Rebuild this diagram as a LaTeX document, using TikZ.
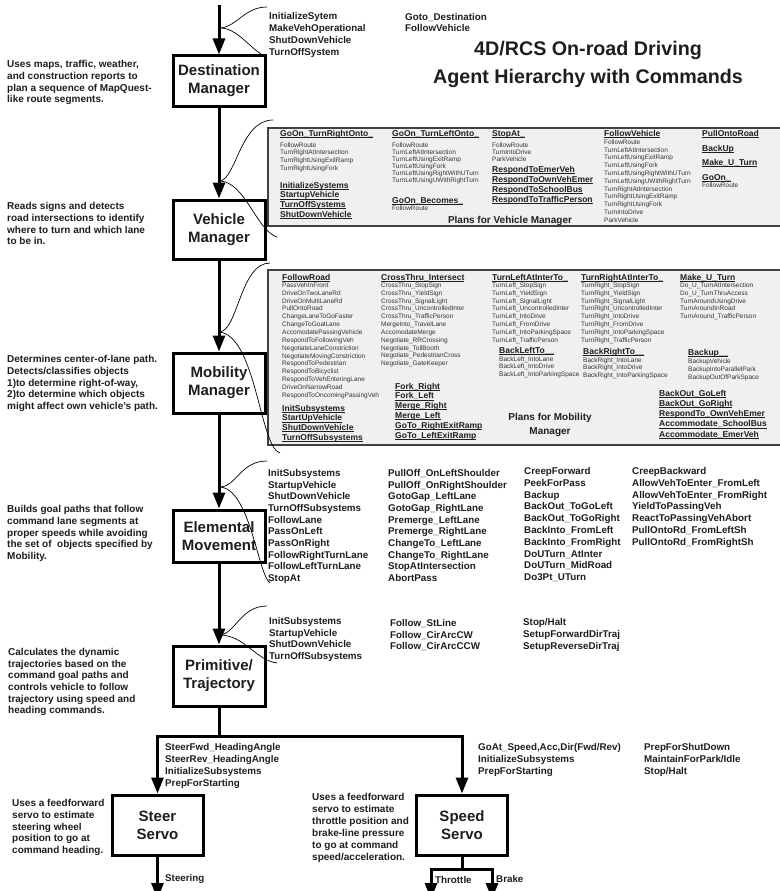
\documentclass[tikz,border=0pt]{standalone}
\usepackage{fontspec}
\setmainfont{Liberation Sans}
\usetikzlibrary{arrows.meta}

\definecolor{ink}{HTML}{1E1E1E}
\definecolor{ink2}{HTML}{333333}
\definecolor{planfill}{HTML}{F0F0F0}
\definecolor{planedge}{HTML}{404040}

% a thin underline sitting close to the baseline
\newsavebox\ulbox
\newcommand\ulx[1]{\sbox\ulbox{#1}\rlap{\rule[-1.4pt]{\wd\ulbox}{0.6pt}}\usebox\ulbox}

% a column of text lines: name, x, first y, line step, style, items
\newcommand\txtcol[6]{%
  \foreach \t [count=\i from 0] in {#6}{%
    \node[#5] (#1-\i) at (#2,{#3+\i*#4}) {\t};}}
% the same, every line underlined
\newcommand\ulcol[6]{%
  \foreach \t [count=\i from 0] in {#6}{%
    \node[#5] (#1-\i) at (#2,{#3+\i*#4}) {\ulx{\t}};}}

\begin{document}
\begin{tikzpicture}[x=1pt,y=-1pt,
  agent/.style={draw=black, line width=3pt, minimum width=92pt, inner sep=0pt,
    align=center, text=ink, font=\bfseries\fontsize{15}{18}\selectfont},
  flow/.style={line width=3pt, -{Triangle[length=16pt,width=12pt]}},
  link/.style={line width=3pt},
  brace/.style={line width=0.7pt},
  cmd/.style={anchor=base west, inner sep=0pt, yshift=-3.5pt, text=ink,
    font=\bfseries\fontsize{9.8}{11}\selectfont},
  desc/.style={anchor=base west, inner sep=0pt, yshift=-3.6pt, text=ink,
    font=\bfseries\fontsize{10}{12}\selectfont},
  plan/.style={anchor=base west, inner sep=0pt, yshift=-2.3pt, text=ink2,
    font=\fontsize{6.5}{7.5}\selectfont},
  planhead/.style={anchor=base west, inner sep=0pt, yshift=-3pt, text=ink,
    font=\bfseries\fontsize{8.5}{10}\selectfont},
  plantitle/.style={anchor=base, inner sep=0pt, yshift=-3.6pt, text=ink,
    font=\bfseries\fontsize{10}{12}\selectfont},
  headline/.style={anchor=base, inner sep=0pt, yshift=-7pt, text=ink,
    font=\bfseries\fontsize{19.7}{24}\selectfont},
  planbox/.style={fill=planfill, draw=planedge, line width=1.1pt}
]
\fill[white] (0,0) rectangle (779,891);
\useasboundingbox (0,0) rectangle (779,891);

% ---------- title ----------
\node[headline] (title1) at (588,49) {4D/RCS On-road Driving};
\node[headline] (title2) at (588,76) {Agent Hierarchy with Commands};

% ---------- plan panels ----------
\draw[planbox] (268,128) rectangle (790,226);
\draw[planbox] (268,270) rectangle (790,445);

% ---------- agent boxes ----------
\node[agent, minimum height=50pt] (dest) at (219,81) {Destination\\Manager};
\node[agent, minimum height=59pt] (veh)  at (219,229.5) {Vehicle\\Manager};
\node[agent, minimum height=60pt] (mob)  at (219,383) {Mobility\\Manager};
\node[agent, minimum height=52pt] (elem) at (219,536) {Elemental\\Movement};
\node[agent, minimum height=60pt] (prim) at (219,676) {Primitive/\\Trajectory};
\node[agent, minimum height=60pt, minimum width=91pt] (steer) at (157.5,825) {Steer\\Servo};
\node[agent, minimum height=60pt, minimum width=91pt] (speed) at (462,825) {Speed\\Servo};

% ---------- command flow ----------
\coordinate (start) at (219,5);
\draw[flow] (start) -- (dest.north);
\draw[flow] (dest.south) -- (veh.north);
\draw[flow] (veh.south) -- (mob.north);
\draw[flow] (mob.south) -- (elem.north);
\draw[flow] (elem.south) -- (prim.north);
\coordinate (split) at (219,736);
\draw[flow] (prim.south) -- (split) -| (steer.north);
\draw[flow] (split) -| (speed.north);
\coordinate (steerout) at (157.5,899);
\draw[flow] (steer.south) -- (steerout);
\coordinate (speedfork) at (462,869);
\coordinate (throttleout) at (431,899);
\coordinate (brakeout) at (492,899);
\draw[link] (speed.south) -- (speedfork);
\draw[flow] (speedfork) -| (throttleout);
\draw[flow] (speedfork) -| (brakeout);

% ---------- brackets from the flow to each command list ----------
\coordinate (j1) at (219,28);  \coordinate (a1) at (267,7);   \coordinate (b1) at (267,57);
\coordinate (j2) at (219,181); \coordinate (a2) at (273,120); \coordinate (b2) at (277,237);
\coordinate (j3) at (219,332); \coordinate (a3) at (270,263); \coordinate (b3) at (280,453);
\coordinate (j4) at (219,487); \coordinate (a4) at (267,461); \coordinate (b4) at (270,583);
\coordinate (j5) at (219,635); \coordinate (a5) at (267,606); \coordinate (b5) at (277,663);
\draw[brace] (j1) .. controls (236,28) and (244,7) .. (a1);
\draw[brace] (j1) .. controls (238,27) and (252,52) .. (b1);
\draw[brace] (j2) .. controls (236,181) and (240,120) .. (a2);
\draw[brace] (j2) .. controls (245,181) and (256,230) .. (b2);
\draw[brace] (j3) .. controls (238,332) and (240,263) .. (a3);
\draw[brace] (j3) .. controls (256,335) and (260,448) .. (b3);
\draw[brace] (j4) .. controls (237,487) and (240,461) .. (a4);
\draw[brace] (j4) .. controls (250,487) and (258,575) .. (b4);
\draw[brace] (j5) .. controls (235,635) and (240,606) .. (a5);
\draw[brace] (j5) .. controls (245,635) and (255,660) .. (b5);

% ---------- descriptions ----------
\txtcol{ddest}{7}{64}{11.7}{desc}{{Uses maps, traffic, weather,},and construction reports to,plan a sequence of MapQuest-,like route segments.}
\txtcol{dveh}{7}{206}{11.7}{desc}{Reads signs and detects,road intersections to identify,where to turn and which lane,to be in.}
\txtcol{dmob}{7}{359}{11.7}{desc}{Determines center-of-lane path.,Detects/classifies objects,{1)to determine right-of-way,},2)to determine which objects,might affect own vehicle’s path.}
\txtcol{delem}{7}{509}{11.7}{desc}{Builds goal paths that follow,command lane segments at,proper speeds while avoiding,the set of\ \ objects specified by,Mobility.}
\txtcol{dprim}{8}{652}{11.6}{desc}{Calculates the dynamic,trajectories based on the,command goal paths and,controls vehicle to follow,trajectory using speed and,heading commands.}
\txtcol{dsteer}{12}{803}{11.75}{desc}{Uses a feedforward,servo to estimate,steering wheel,position to go at,command heading.}
\txtcol{dspeed}{312}{797}{12}{desc}{Uses a feedforward,servo to estimate,throttle position and,brake-line pressure,to go at command,speed/acceleration.}

% ---------- destination manager commands ----------
\txtcol{cdest}{269}{16}{11.9}{cmd}{InitializeSytem,MakeVehOperational,ShutDownVehicle,TurnOffSystem}
\txtcol{cdestb}{405}{17}{11.5}{cmd}{Goto\_Destination,FollowVehicle}

% ---------- plans for vehicle manager ----------
\ulcol{pv1h}{280}{133.5}{0}{planhead}{GoOn\_TurnRightOnto\_}
\txtcol{pv1}{280}{145}{7.6}{plan}{FollowRoute,TurnRightAtIntersection,TurnRightUsingExitRamp,TurnRightUsingFork}
\ulcol{pv1u}{280}{185}{9.7}{planhead}{InitializeSystems,StartupVehicle,TurnOffSystems,ShutDownVehicle}
\ulcol{pv2h}{392}{133.5}{0}{planhead}{GoOn\_TurnLeftOnto\_}
\txtcol{pv2}{392}{145}{7}{plan}{FollowRoute,TurnLeftAtIntersection,TurnLeftUsingExitRamp,TurnLeftUsingFork,TurnLeftUsingRightWithUTurn,TurnLeftUsingUWithRightTurn}
\ulcol{pv2u}{392}{200}{0}{planhead}{GoOn\_Becomes\_}
\txtcol{pv2b}{392}{208}{0}{plan}{FollowRoute}
\ulcol{pv3h}{492}{133.5}{0}{planhead}{StopAt\_}
\txtcol{pv3}{492}{145}{7.3}{plan}{FollowRoute,TurnIntoDrive,ParkVehicle}
\ulcol{pv3u}{492}{169}{10}{planhead}{RespondToEmerVeh,RespondToOwnVehEmer,RespondToSchoolBus,RespondToTrafficPerson}
\ulcol{pv4h}{604}{133}{0}{planhead}{FollowVehicle}
\txtcol{pv4}{604}{142}{7.8}{plan}{FollowRoute,TurnLeftAtIntersection,TurnLeftUsingExitRamp,TurnLeftUsingFork,TurnLeftUsingRightWithUTurn,TurnLeftUsingUWithRightTurn,TurnRightAtIntersection,TurnRightUsingExitRamp,TurnRightUsingFork,TurnIntoDrive,ParkVehicle}
\ulcol{pv5h}{702}{133.5}{0}{planhead}{PullOntoRoad}
\ulcol{pv5}{702}{148}{14.5}{planhead}{BackUp,Make\_U\_Turn,GoOn\_}
\txtcol{pv5b}{702}{185}{0}{plan}{FollowRoute}
\node[plantitle] (pvtitle) at (510,220) {Plans for Vehicle Manager};

% ---------- plans for mobility manager ----------
\ulcol{pm1h}{282}{277}{0}{planhead}{FollowRoad}
\txtcol{pm1}{282}{285}{7.86}{plan}{PassVehInFront,DriveOnTwoLaneRd,DriveOnMultiLaneRd,PullOntoRoad,ChangeLaneToGoFaster,ChangeToGoalLane,AccomodatePassingVehicle,RespondToFollowingVeh,NegotiateLaneConstriction,NegotiateMovingConstriction,RespondToPedestrian,RespondToBicyclist,RespondToVehEnteringLane,DriveOnNarrowRoad,RespondToOncomingPassingVeh}
\ulcol{pm1u}{282}{408}{9.7}{planhead}{InitSubsystems,StartUpVehicle,ShutDownVehicle,TurnOffSubsystems}
\ulcol{pm2h}{381}{277}{0}{planhead}{CrossThru\_Intersect}
\txtcol{pm2}{381}{285}{7.85}{plan}{CrossThru\_StopSign,CrossThru\_YieldSign,CrossThru\_SignalLight,CrossThru\_UncontrolledInter,CrossThru\_TrafficPerson,MergeInto\_TravelLane,AccomodateMerge,Negotiate\_RRCrossing,Negotiate\_TollBooth,Negotiate\_PedestrianCross,Negotiate\_GateKeeper}
\ulcol{pm2u}{395}{386}{9.8}{planhead}{Fork\_Right,Fork\_Left,Merge\_Right,Merge\_Left,GoTo\_RightExitRamp,GoTo\_LeftExitRamp}
\ulcol{pm3h}{492}{277}{0}{planhead}{TurnLeftAtInterTo\_}
\txtcol{pm3}{492}{285}{7.85}{plan}{TurnLeft\_StopSign,TurnLeft\_YieldSign,TurnLeft\_SignalLight,TurnLeft\_UncontrolledInter,TurnLeft\_IntoDrive,TurnLeft\_FromDrive,TurnLeft\_IntoParkingSpace,TurnLeft\_TrafficPerson}
\ulcol{pm3b}{499}{350}{0}{planhead}{BackLeftTo\_\_}
\txtcol{pm3c}{499}{359}{7.5}{plan}{BackLeft\_IntoLane,BackLeft\_IntoDrive,BackLeft\_IntoParkingSpace}
\ulcol{pm4h}{581}{277}{0}{planhead}{TurnRightAtInterTo\_}
\txtcol{pm4}{581}{285}{7.85}{plan}{TurnRight\_StopSign,TurnRight\_YieldSign,TurnRight\_SignalLight,TurnRight\_UncontrolledInter,TurnRight\_IntoDrive,TurnRight\_FromDrive,TurnRight\_IntoParkingSpace,TurnRight\_TrafficPerson}
\ulcol{pm4b}{583}{351}{0}{planhead}{BackRightTo\_\_}
\txtcol{pm4c}{583}{360}{7.5}{plan}{BackRight\_IntoLane,BackRight\_IntoDrive,BackRight\_IntoParkingSpace}
\ulcol{pm5h}{680}{277}{0}{planhead}{Make\_U\_Turn}
\txtcol{pm5}{680}{285}{7.85}{plan}{Do\_U\_TurnAtIntersection,Do\_U\_TurnThruAccess,TurnAroundUsingDrive,TurnAroundInRoad,TurnAround\_TrafficPerson}
\ulcol{pm5b}{688}{352}{0}{planhead}{Backup\_\_}
\txtcol{pm5c}{688}{361}{8}{plan}{BackupVehicle,BackupIntoParallelPark,BackupOutOfParkSpace}
\ulcol{pm6u}{659}{393}{10.3}{planhead}{BackOut\_GoLeft,BackOut\_GoRight,RespondTo\_OwnVehEmer,Accommodate\_SchoolBus,Accommodate\_EmerVeh}
\node[plantitle] (pmtitle1) at (550,417) {Plans for Mobility};
\node[plantitle] (pmtitle2) at (550,431) {Manager};

% ---------- elemental movement commands ----------
\txtcol{ce1}{268}{473}{11.67}{cmd}{InitSubsystems,StartupVehicle,ShutDownVehicle,TurnOffSubsystems,FollowLane,PassOnLeft,PassOnRight,FollowRightTurnLane,FollowLeftTurnLane,StopAt}
\txtcol{ce2}{388}{473}{11.67}{cmd}{PullOff\_OnLeftShoulder,PullOff\_OnRightShoulder,GotoGap\_LeftLane,GotoGap\_RightLane,Premerge\_LeftLane,Premerge\_RightLane,ChangeTo\_LeftLane,ChangeTo\_RightLane,StopAtIntersection,AbortPass}
\txtcol{ce3}{524}{471}{11.8}{cmd}{CreepForward,PeekForPass,Backup,BackOut\_ToGoLeft,BackOut\_ToGoRight,BackInto\_FromLeft,BackInto\_FromRight,DoUTurn\_AtInter,DoUTurn\_MidRoad,Do3Pt\_UTurn}
\txtcol{ce4}{632}{471}{11.8}{cmd}{CreepBackward,AllowVehToEnter\_FromLeft,AllowVehToEnter\_FromRight,YieldToPassingVeh,ReactToPassingVehAbort,PullOntoRd\_FromLeftSh,PullOntoRd\_FromRightSh}

% ---------- primitive / trajectory commands ----------
\txtcol{cp1}{269}{621}{11.7}{cmd}{InitSubsystems,StartupVehicle,ShutDownVehicle,TurnOffSubsystems}
\txtcol{cp2}{390}{623}{11.5}{cmd}{Follow\_StLine,Follow\_CirArcCW,Follow\_CirArcCCW}
\txtcol{cp3}{523}{622}{12}{cmd}{Stop/Halt,SetupForwardDirTraj,SetupReverseDirTraj}

% ---------- servo commands ----------
\txtcol{cs1}{165}{747}{12}{cmd}{SteerFwd\_HeadingAngle,SteerRev\_HeadingAngle,InitializeSubsystems,PrepForStarting}
\txtcol{cv1}{478}{747}{12}{cmd}{{GoAt\_Speed,Acc,Dir(Fwd/Rev)},InitializeSubsystems,PrepForStarting}
\txtcol{cv2}{644}{747}{12}{cmd}{PrepForShutDown,MaintainForPark/Idle,Stop/Halt}

% ---------- actuator outputs ----------
\node[cmd] (lsteer) at (165,878) {Steering};
\node[cmd] (lthrottle) at (435,880) {Throttle};
\node[cmd] (lbrake) at (496,879) {Brake};
\end{tikzpicture}
\end{document}
